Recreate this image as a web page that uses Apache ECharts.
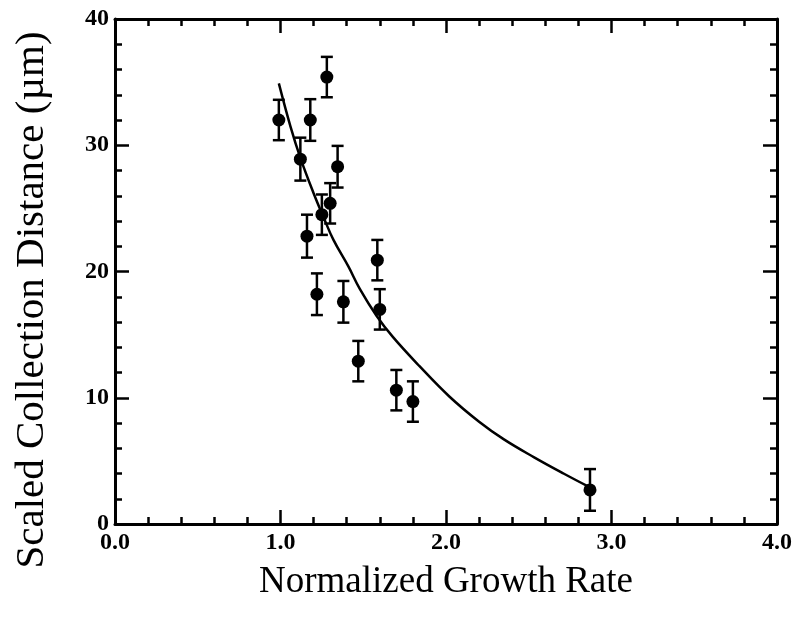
<!DOCTYPE html>
<html>
<head>
<meta charset="utf-8">
<script src="https://cdn.jsdelivr.net/npm/echarts@6/dist/echarts.min.js"></script>
<style>
html,body{margin:0;padding:0;background:#fff;}
#chart{width:808px;height:619px;}
</style>
</head>
<body>
<div id="chart"></div>
<script>
// Data points (normalized growth rate, scaled collection distance, error)
var growthRate = [0.99, 1.12, 1.16, 1.18, 1.22, 1.25, 1.28, 1.30, 1.345, 1.38, 1.47, 1.585, 1.60, 1.70, 1.80, 2.87];
var distance   = [32.0, 28.9, 22.8, 32.0, 18.2, 24.5, 35.4, 25.4, 28.3, 17.6, 12.9, 20.9, 17.0, 10.6, 9.7, 2.7];
var errorBar   = [1.6, 1.7, 1.7, 1.65, 1.65, 1.6, 1.6, 1.6, 1.65, 1.65, 1.6, 1.6, 1.6, 1.6, 1.6, 1.65];

// Fitted curve
var curveX = [0.99, 1.06, 1.12, 1.20, 1.26, 1.32, 1.41, 1.48, 1.58, 1.68, 1.84, 2.02, 2.20, 2.35, 2.53, 2.71, 2.87];
var curveY = [34.9, 31.5, 29.0, 26.2, 24.3, 22.5, 20.4, 18.6, 16.5, 14.8, 12.5, 10.1, 8.1, 6.7, 5.3, 4.0, 2.9];

var xTickLabels = ['0.0', '1.0', '2.0', '3.0', '4.0'];
var yTickLabels = ['0', '10', '20', '30', '40'];

var pts = growthRate.map(function (x, i) { return [x, distance[i]]; });
var errs = growthRate.map(function (x, i) { return [x, distance[i], errorBar[i]]; });
var curve = curveX.map(function (x, i) { return [x, curveY[i]]; });

var tickStyle = { color: '#000', width: 2.5 };
function mkX(pos, showLabel) {
  return {
    type: 'value', min: 0, max: 4, interval: 1, position: pos,
    axisLine: { show: true, onZero: false, lineStyle: { color: '#000', width: 3 } },
    axisTick: { show: true, inside: true, length: 14, lineStyle: tickStyle },
    minorTick: { show: true, splitNumber: 5, length: 7, lineStyle: tickStyle },
    splitLine: { show: false },
    axisLabel: {
      show: showLabel, margin: 7, color: '#000', fontSize: 24, fontWeight: 'bold',
      fontFamily: 'Liberation Serif',
      formatter: function (v) { return xTickLabels[Math.round(v)]; }
    },
    name: showLabel ? 'Normalized Growth Rate' : '',
    nameLocation: 'middle', nameGap: 40,
    nameTextStyle: { color: '#000', fontSize: 37, fontFamily: 'Liberation Serif' }
  };
}
function mkY(pos, showLabel) {
  return {
    type: 'value', min: 0, max: 40, interval: 10, position: pos,
    axisLine: { show: true, onZero: false, lineStyle: { color: '#000', width: 3 } },
    axisTick: { show: true, inside: true, length: 14, lineStyle: tickStyle },
    minorTick: { show: true, splitNumber: 5, length: 7, lineStyle: tickStyle },
    splitLine: { show: false },
    axisLabel: {
      show: showLabel, margin: 6, color: '#000', fontSize: 24, fontWeight: 'bold',
      fontFamily: 'Liberation Serif',
      formatter: function (v) { return yTickLabels[Math.round(v / 10)]; }
    }
  };
}

var chart = echarts.init(document.getElementById('chart'), null, { renderer: 'canvas' });
chart.setOption({
  animation: false,
  backgroundColor: '#fff',
  grid: { left: 115, top: 19, right: 31, bottom: 95, containLabel: false },
  xAxis: [mkX('bottom', true), mkX('top', false)],
  yAxis: [mkY('left', true), mkY('right', false)],
  graphic: [{
    type: 'text', x: 32, y: 300, rotation: Math.PI / 2,
    style: {
      text: 'Scaled Collection Distance (\u00b5m)', fill: '#000',
      font: '41px "Liberation Serif"', textAlign: 'center', textVerticalAlign: 'middle'
    }
  }],
  series: [
    {
      type: 'line', data: curve, smooth: 0.4, showSymbol: false, symbol: 'none',
      lineStyle: { color: '#000', width: 2.5 }, z: 2
    },
    {
      type: 'custom', data: errs, z: 3,
      renderItem: function (params, api) {
        var x = api.value(0), y = api.value(1), e = api.value(2);
        var top = api.coord([x, y + e]);
        var bot = api.coord([x, y - e]);
        var hw = 6;
        var st = { stroke: '#000', lineWidth: 2.5 };
        return {
          type: 'group',
          children: [
            { type: 'line', shape: { x1: top[0], y1: top[1], x2: bot[0], y2: bot[1] }, style: st },
            { type: 'line', shape: { x1: top[0] - hw, y1: top[1], x2: top[0] + hw, y2: top[1] }, style: st },
            { type: 'line', shape: { x1: bot[0] - hw, y1: bot[1], x2: bot[0] + hw, y2: bot[1] }, style: st }
          ]
        };
      }
    },
    {
      type: 'scatter', data: pts, symbol: 'circle', symbolSize: 13, z: 4,
      itemStyle: { color: '#000', opacity: 1 }
    }
  ]
});
</script>
</body>
</html>
